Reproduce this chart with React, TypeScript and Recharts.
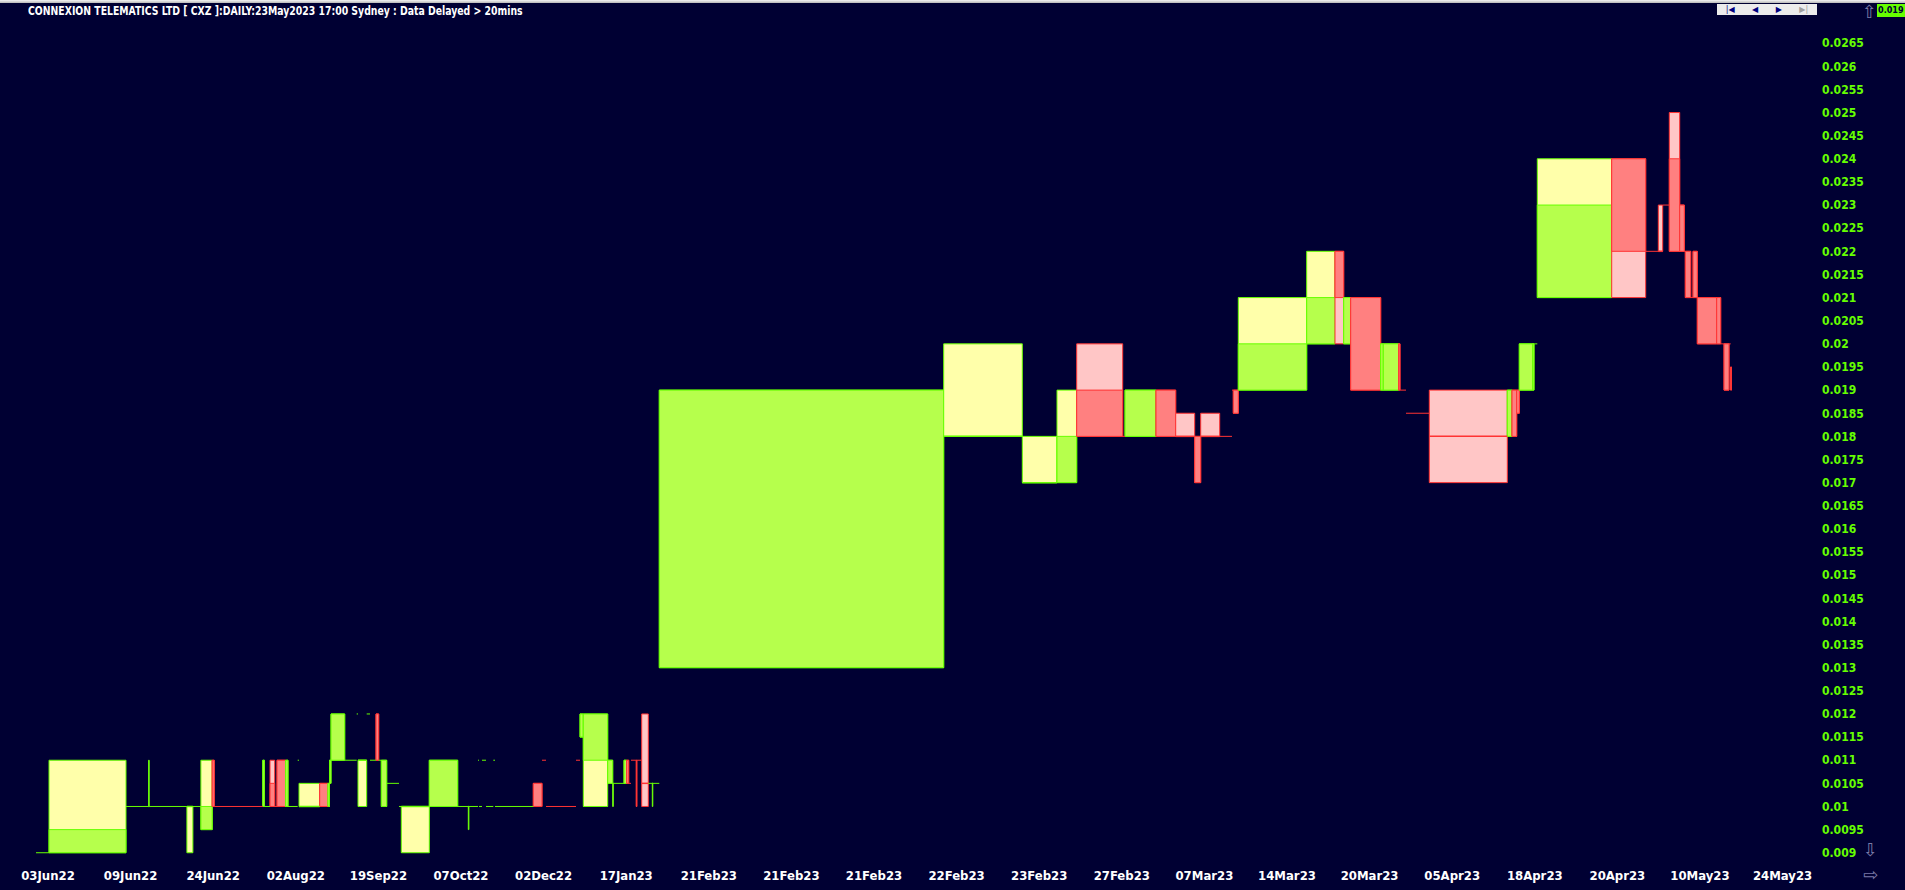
import { ComposedChart, XAxis, YAxis, ReferenceArea, ReferenceLine } from "recharts"

// Equivolume daily candles for CXZ, oldest first. Box width = volume (M shares).
const VOLUME = [
  1.3, 7.7, 2.26, 0.06, 3.77, 0.6, 0.8, 1.13, 0.2, 4.86, 0.15, 0.57, 0.47, 0.23, 0.87, 0.23, 0.97, 0.13, 2.07, 0.83,
  0.15, 0.15, 1.37, 1.2, 0.13, 0.87, 0.33, 0.6, 0.27, 0.26, 0.54, 1.23, 0.23, 2.8, 2.84, 1.06, 0.06, 0.91, 0.1, 0.3,
  0.4, 0.73, 0.17, 3.83, 0.87, 0.4, 3.0, 0.4, 0.33, 2.44, 0.5, 0.06, 1.07, 0.27, 0.2, 0.23, 0.53, 0.05, 0.49, 0.66,
  0.4, 0.05, 0.65,
  // 2023
  28.44, 7.86, 3.47, 1.97, 4.6, 0.23, 3.1, 1.97, 1.9, 0.6, 1.9, 1.23, 0.13, 0.5, 6.84, 2.83, 0.87, 0.7, 3.0, 0.26,
  1.54, 0.13, 0.6, 2.33, 7.8, 0.47, 0.47, 0.26, 1.34, 0.13, 0.33, 7.44, 3.4, 1.26, 0.44, 0.66, 1.04, 0.46, 0.1, 0.54,
  0.23, 0.43, 1.94, 0.4, 0.33, 0.5, 0.17, 0.07,
]

const OPEN = [
  0.009, 0.009, 0.01, 0.01, 0.01, 0.01, 0.01, 0.0095, 0.011, 0.01, 0.01, 0.01, 0.0105, 0.01, 0.011, 0.01, 0.01, 0.011, 0.01, 0.0105,
  0.01, 0.0105, 0.011, 0.011, 0.012, 0.011, 0.012, 0.011, 0.012, 0.011, 0.01, 0.0105, 0.01, 0.01, 0.01, 0.01, 0.01, 0.01, 0.011, 0.01,
  0.011, 0.01, 0.011, 0.01, 0.0105, 0.011, 0.01, 0.011, 0.0115, 0.011, 0.0105, 0.0105, 0.0105, 0.0105, 0.011, 0.0105, 0.011, 0.011, 0.011, 0.0105,
  0.0105, 0.0105, 0.0105,
  0.013, 0.018, 0.017, 0.017, 0.019, 0.018, 0.018, 0.019, 0.018, 0.018, 0.018, 0.018, 0.019, 0.019, 0.019, 0.02, 0.022, 0.02, 0.021, 0.019,
  0.019, 0.02, 0.019, 0.0185, 0.018, 0.018, 0.019, 0.019, 0.019, 0.019, 0.02, 0.021, 0.024, 0.022, 0.022, 0.023, 0.024, 0.023, 0.022, 0.022,
  0.021, 0.022, 0.021, 0.021, 0.02, 0.02, 0.02, 0.0195,
]

const HIGH = [
  0.009, 0.011, 0.01, 0.011, 0.01, 0.01, 0.01, 0.011, 0.011, 0.01, 0.011, 0.01, 0.011, 0.01, 0.011, 0.011, 0.01, 0.011, 0.0105, 0.0105,
  0.0105, 0.011, 0.012, 0.011, 0.012, 0.011, 0.012, 0.011, 0.012, 0.011, 0.011, 0.0105, 0.01, 0.01, 0.011, 0.01, 0.01, 0.01, 0.011, 0.01,
  0.011, 0.01, 0.011, 0.01, 0.0105, 0.011, 0.01, 0.011, 0.012, 0.012, 0.011, 0.0105, 0.0105, 0.011, 0.011, 0.0105, 0.011, 0.011, 0.011, 0.012,
  0.0105, 0.0105, 0.0105,
  0.019, 0.02, 0.018, 0.019, 0.02, 0.018, 0.019, 0.019, 0.0185, 0.018, 0.0185, 0.018, 0.019, 0.019, 0.021, 0.022, 0.022, 0.021, 0.021, 0.02,
  0.02, 0.02, 0.019, 0.0185, 0.019, 0.019, 0.019, 0.019, 0.02, 0.02, 0.02, 0.024, 0.024, 0.022, 0.023, 0.023, 0.025, 0.023, 0.022, 0.022,
  0.021, 0.022, 0.021, 0.021, 0.02, 0.02, 0.02, 0.0195,
]

const LOW = [
  0.009, 0.009, 0.01, 0.01, 0.01, 0.009, 0.01, 0.0095, 0.01, 0.01, 0.01, 0.01, 0.01, 0.01, 0.01, 0.01, 0.01, 0.011, 0.01, 0.01,
  0.01, 0.0105, 0.011, 0.011, 0.012, 0.01, 0.012, 0.011, 0.011, 0.011, 0.01, 0.0105, 0.01, 0.009, 0.01, 0.01, 0.0095, 0.01, 0.011, 0.01,
  0.011, 0.01, 0.011, 0.01, 0.01, 0.011, 0.01, 0.011, 0.0115, 0.01, 0.0105, 0.01, 0.0105, 0.0105, 0.0105, 0.0105, 0.011, 0.01, 0.011, 0.01,
  0.0105, 0.01, 0.0105,
  0.013, 0.018, 0.017, 0.017, 0.018, 0.018, 0.018, 0.018, 0.018, 0.017, 0.018, 0.018, 0.019, 0.0185, 0.019, 0.02, 0.02, 0.02, 0.019, 0.019,
  0.019, 0.019, 0.019, 0.0185, 0.017, 0.018, 0.018, 0.0185, 0.019, 0.019, 0.02, 0.021, 0.021, 0.022, 0.022, 0.023, 0.022, 0.022, 0.022, 0.021,
  0.021, 0.021, 0.02, 0.02, 0.02, 0.019, 0.02, 0.019,
]

const CLOSE = [
  0.009, 0.0095, 0.01, 0.01, 0.01, 0.01, 0.01, 0.01, 0.01, 0.01, 0.011, 0.01, 0.01, 0.01, 0.01, 0.011, 0.01, 0.011, 0.01, 0.01,
  0.0105, 0.011, 0.012, 0.011, 0.012, 0.011, 0.012, 0.011, 0.011, 0.011, 0.011, 0.0105, 0.01, 0.01, 0.011, 0.01, 0.01, 0.01, 0.011, 0.01,
  0.011, 0.01, 0.011, 0.01, 0.01, 0.011, 0.01, 0.011, 0.012, 0.012, 0.011, 0.0105, 0.0105, 0.011, 0.0105, 0.0105, 0.011, 0.01, 0.011, 0.0105,
  0.0105, 0.0105, 0.0105,
  0.019, 0.018, 0.017, 0.018, 0.018, 0.018, 0.019, 0.018, 0.018, 0.017, 0.018, 0.018, 0.019, 0.0185, 0.02, 0.021, 0.021, 0.021, 0.019, 0.02,
  0.02, 0.019, 0.019, 0.0185, 0.018, 0.019, 0.018, 0.0185, 0.02, 0.02, 0.02, 0.023, 0.022, 0.022, 0.022, 0.023, 0.022, 0.022, 0.022, 0.021,
  0.021, 0.021, 0.02, 0.02, 0.02, 0.019, 0.02, 0.019,
]

// U = rising colours (green / yellow), D = falling colours (red / pink)
const SIDE = "UUUUUUUUDDUUDDDUUUUDUUUUUUUUDUUUUUUUUUUUUUUUDDDDUUUUUUDDDDDDUUUUUUUDDUDDDDDDDUUDUDUUDDDDUDDUUUUDDDDDDDDDDDDDDDD"

const DATE_LABELS = [
  "03Jun22", "09Jun22", "24Jun22", "02Aug22", "19Sep22", "07Oct22", "02Dec22", "17Jan23", "21Feb23", "21Feb23", "21Feb23",
  "22Feb23", "23Feb23", "27Feb23", "07Mar23", "14Mar23", "20Mar23", "05Apr23", "18Apr23", "20Apr23", "10May23", "24May23",
]

const PRICE_TICKS = [
  0.009, 0.0095, 0.01, 0.0105, 0.011, 0.0115, 0.012, 0.0125, 0.013, 0.0135, 0.014, 0.0145, 0.015, 0.0155, 0.016, 0.0165,
  0.017, 0.0175, 0.018, 0.0185, 0.019, 0.0195, 0.02, 0.0205, 0.021, 0.0215, 0.022, 0.0225, 0.023, 0.0235, 0.024, 0.0245,
  0.025, 0.0255, 0.026, 0.0265,
]

const LAST_PRICE = "0.019"

const TICK_POS = DATE_LABELS.map((_, i) => 1.2 + i * 8.26)

const BG = "#000033"
const PALETTE = {
  U: { body: "#b6ff4c", wick: "#ffffaa", edge: "#66ff00" },
  D: { body: "#ff8080", wick: "#ffc6c6", edge: "#ff3333" },
}
const FONT = "'Liberation Sans Narrow', 'DejaVu Sans Condensed', 'Liberation Sans', sans-serif"
const ICON = { position: "absolute" as const, color: "#7a7aa8", fontSize: 18, lineHeight: "18px", fontFamily: "'DejaVu Sans', sans-serif" }

export default function App() {
  let acc = 0
  const candles = VOLUME.map((v, i) => {
    const x0 = acc
    acc += v
    return { x0, x1: acc, o: OPEN[i], h: HIGH[i], l: LOW[i], c: CLOSE[i], side: SIDE[i] as "U" | "D" }
  })

  const marks: any[] = []
  candles.forEach((k, i) => {
    const col = PALETTE[k.side]
    if (k.h === k.l) {
      marks.push(
        <ReferenceLine key={`f${i}`} segment={[{ x: k.x0, y: k.h }, { x: k.x1, y: k.h }]}
          stroke={col.edge} strokeWidth={1} ifOverflow="visible" />
      )
      return
    }
    marks.push(
      <ReferenceArea key={`r${i}`} x1={k.x0} x2={k.x1} y1={k.l} y2={k.h} fill={col.wick} fillOpacity={1}
        stroke={col.edge} strokeWidth={1} ifOverflow="visible" />
    )
    if (k.o !== k.c) {
      marks.push(
        <ReferenceArea key={`b${i}`} x1={k.x0} x2={k.x1} y1={Math.min(k.o, k.c)} y2={Math.max(k.o, k.c)}
          fill={col.body} fillOpacity={1} stroke={col.edge} strokeWidth={1} ifOverflow="visible" />
      )
    } else {
      marks.push(
        <ReferenceLine key={`d${i}`} segment={[{ x: k.x0, y: k.o }, { x: k.x1, y: k.o }]}
          stroke={col.edge} strokeWidth={1.5} ifOverflow="visible" />
      )
    }
  })

  return (
    <div style={{ position: "relative", width: 1905, height: 890, background: BG, overflow: "hidden", fontFamily: FONT }}>
      <style>{`body{margin:0;background:${BG}}`}</style>
      <ComposedChart width={1905} height={890} data={candles} margin={{ top: 20, right: 0, bottom: 0, left: 20 }}>
        <XAxis type="number" dataKey="x0" domain={[-1.6, 176.4]} allowDataOverflow ticks={TICK_POS} interval={0}
          tickFormatter={(_v: number, i: number) => DATE_LABELS[i]} axisLine={false} tickLine={false} tickSize={0}
          tickMargin={9} height={28}
          tick={{ fill: "#ffffff", fontSize: 13, fontWeight: 700, fontFamily: FONT }} />
        <YAxis type="number" orientation="right" domain={[0.0088, 0.027]} allowDataOverflow ticks={PRICE_TICKS}
          interval={0} width={105} axisLine={false} tickLine={false} tickSize={0} tickMargin={22}
          tickFormatter={(v: number) => String(v)}
          tick={{ fill: "#66ff00", fontSize: 12, fontWeight: 700, fontFamily: FONT, textAnchor: "start" }} />
        {marks}
      </ComposedChart>

      {/* window chrome */}
      <div style={{ position: "absolute", left: 0, top: 0, width: 1905, height: 3, background: "linear-gradient(#f4f4f4,#b8b8b8)" }} />
      <div style={{ position: "absolute", left: 28, top: 5, color: "#ffffff", fontSize: 11.5, fontWeight: 700, lineHeight: "12px",
        whiteSpace: "nowrap", transform: "scaleX(0.9)", transformOrigin: "left center" }}>
        CONNEXION TELEMATICS LTD [ CXZ ]:DAILY:23May2023 17:00 Sydney : Data Delayed &gt; 20mins
      </div>
      <div style={{ position: "absolute", left: 1717, top: 4, width: 100, height: 11, background: "#ececec", display: "flex",
        justifyContent: "space-around", alignItems: "center", fontSize: 8, lineHeight: "11px", fontFamily: "'DejaVu Sans', sans-serif" }}>
        <span style={{ color: "#000080" }}>|◀</span>
        <span style={{ color: "#000080" }}>◀</span>
        <span style={{ color: "#000080" }}>▶</span>
        <span style={{ color: "#a0a0a0" }}>▶|</span>
      </div>
      <div style={{ ...ICON, left: 1862, top: 3 }}>⇧</div>
      <div style={{ position: "absolute", left: 1877, top: 4, width: 28, height: 13, background: "#66ff00", color: BG,
        fontSize: 9, fontWeight: 700, lineHeight: "13px", paddingLeft: 1, boxSizing: "border-box", whiteSpace: "nowrap" }}>{LAST_PRICE}</div>
      <div style={{ ...ICON, left: 1863, top: 841 }}>⇩</div>
      <div style={{ ...ICON, left: 1863, top: 866 }}>⇨</div>
    </div>
  )
}
